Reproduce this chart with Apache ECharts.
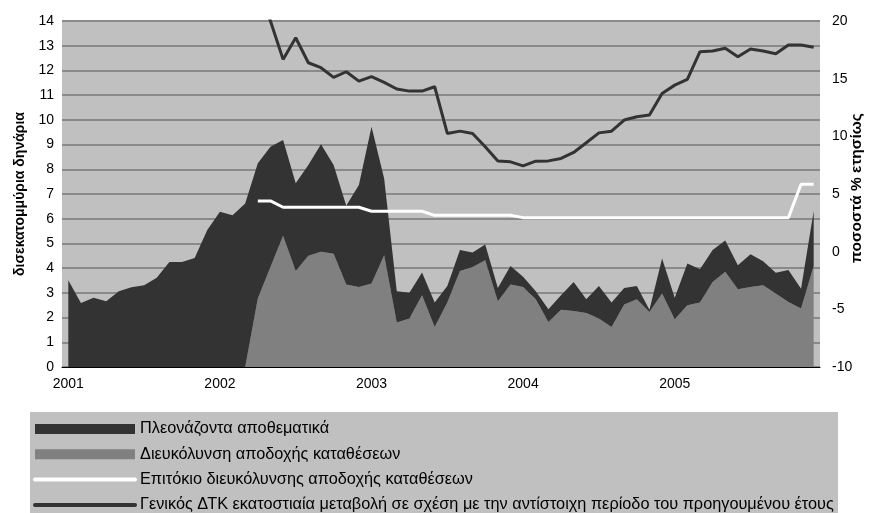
<!DOCTYPE html>
<html>
<head>
<meta charset="utf-8">
<script src="https://cdn.jsdelivr.net/npm/echarts@6/dist/echarts.min.js"></script>
<style>
  html, body { margin: 0; padding: 0; background: #ffffff; }
  #chart { width: 869px; height: 513px; }
</style>
</head>
<body>
<div id="chart"></div>
<script>
// Monthly observations, January 2001 – December 2005
const years = ['2001', '2002', '2003', '2004', '2005'];
const months = [];
years.forEach(function (y) {
  for (let m = 1; m <= 12; m++) months.push(y + '-' + String(m).padStart(2, '0'));
});

// Billion dinars (left axis), stacked: deposit facility below, excess reserves on top
const depositFacility = [
  0, 0, 0, 0, 0, 0, 0, 0, 0, 0, 0, 0,
  0, 0, 0, 2.77, 4.05, 5.31, 3.88, 4.50, 4.66, 4.58, 3.34, 3.24,
  3.38, 4.52, 1.80, 1.96, 2.90, 1.62, 2.61, 3.88, 4.05, 4.32, 2.66, 3.34,
  3.24, 2.74, 1.82, 2.32, 2.27, 2.19, 1.96, 1.62, 2.53, 2.74, 2.23, 2.97,
  1.93, 2.50, 2.61, 3.44, 3.85, 3.15, 3.24, 3.31, 2.97, 2.63, 2.37, 4.09
];
const excessReserves = [
  3.51, 2.59, 2.80, 2.66, 3.07, 3.23, 3.31, 3.61, 4.25, 4.25, 4.41, 5.54,
  6.28, 6.14, 6.62, 5.47, 4.86, 3.87, 3.55, 3.67, 4.35, 3.59, 3.18, 4.12,
  6.34, 3.11, 1.27, 1.04, 0.92, 0.99, 0.67, 0.85, 0.58, 0.64, 0.54, 0.75,
  0.41, 0.33, 0.52, 0.58, 1.17, 0.55, 1.32, 0.99, 0.67, 0.54, 0.09, 1.42,
  0.87, 1.69, 1.35, 1.29, 1.27, 0.97, 1.32, 0.97, 0.84, 1.29, 0.80, 2.22
];

// Percent per year (right axis)
const depositRate = [
  null, null, null, null, null, null, null, null, null, null, null, null,
  null, null, null, 4.4, 4.4, 3.85, 3.85, 3.85, 3.85, 3.85, 3.85, 3.85,
  3.5, 3.5, 3.5, 3.5, 3.5, 3.15, 3.15, 3.15, 3.15, 3.15, 3.15, 3.15,
  2.95, 2.95, 2.95, 2.95, 2.95, 2.95, 2.95, 2.95, 2.95, 2.95, 2.95, 2.95,
  2.95, 2.95, 2.95, 2.95, 2.95, 2.95, 2.95, 2.95, 2.95, 2.95, 5.85, 5.85
];
const cpi = [
  115, 110, 103, 97, 93, 91, 80, 67, 57, 48, 43, 40,
  36, 33, 28, 23, 20.0, 16.67, 18.55, 16.38, 15.95, 15.11, 15.6, 14.79,
  15.17, 14.68, 14.1, 13.92, 13.92, 14.3, 10.25, 10.45, 10.25, 9.09, 7.87, 7.79,
  7.44, 7.85, 7.87, 8.08, 8.6, 9.44, 10.3, 10.45, 11.41, 11.7, 11.84, 13.72,
  14.44, 14.94, 17.34, 17.4, 17.63, 16.9, 17.57, 17.4, 17.16, 17.92, 17.92, 17.72
];

const names = [
  'Πλεονάζοντα αποθεματικά',
  'Διευκόλυνση αποδοχής καταθέσεων',
  'Επιτόκιο διευκόλυνσης αποδοχής καταθέσεων',
  'Γενικός ΔΤΚ εκατοστιαία μεταβολή σε σχέση με την αντίστοιχη περίοδο του προηγουμένου έτους'
];
const rightAxisTitle = 'ποσοστά % ετησίως';

const FONT = '"Liberation Sans", Arial, sans-serif';

const chart = echarts.init(document.getElementById('chart'), null, { renderer: 'canvas' });

chart.setOption({
  animation: false,
  backgroundColor: '#ffffff',
  textStyle: { fontFamily: FONT },
  grid: {
    left: 62, right: 49, top: 21, bottom: 146,
    containLabel: false, outerBoundsMode: 'none',
    show: true, backgroundColor: '#c0c0c0', borderWidth: 0
  },
  graphic: [{
    type: 'rect', z: 0,
    shape: { x: 30, y: 412, width: 808, height: 110 },
    style: { fill: '#c0c0c0' }
  }, {
    // title of the percentage axis, reading bottom to top
    type: 'text', z: 5,
    x: 857, y: 188, rotation: Math.PI / 2,
    style: {
      text: rightAxisTitle, fill: '#000000',
      font: 'bold 15.5px "Liberation Sans", Arial, sans-serif',
      textAlign: 'center', textVerticalAlign: 'middle'
    }
  }],
  legend: {
    orient: 'vertical', left: 33, top: 421, padding: 0,
    itemWidth: 100, itemHeight: 10, itemGap: 9.3,
    selectedMode: false,
    textStyle: { fontFamily: FONT, fontSize: 16.3, color: '#000000' },
    data: [
      { name: names[0], icon: 'rect' },
      { name: names[1], icon: 'rect' },
      { name: names[2], itemStyle: { opacity: 0 }, lineStyle: { width: 4, cap: 'round' } },
      { name: names[3], itemStyle: { opacity: 0 }, lineStyle: { width: 4, cap: 'round' } }
    ]
  },
  xAxis: {
    type: 'category', data: months, boundaryGap: true,
    axisLine: { lineStyle: { color: '#000000', width: 1 } },
    axisTick: { interval: 11, length: 5, lineStyle: { color: '#000000' } },
    axisLabel: {
      interval: 11, margin: 10, color: '#000000', fontSize: 14, fontFamily: FONT,
      formatter: function (v) { return v.slice(0, 4); }
    },
    splitLine: { show: false }
  },
  yAxis: [{
    type: 'value', min: 0, max: 14, interval: 1,
    name: 'δισεκατομμύρια δηνάρια', nameLocation: 'middle', nameRotate: 90, nameGap: 35,
    nameTextStyle: { fontFamily: FONT, fontSize: 14, fontWeight: 'bold', color: '#000000' },
    axisLine: { show: false }, axisTick: { show: false },
    axisLabel: { color: '#000000', fontSize: 14, fontFamily: FONT, margin: 8 },
    splitLine: { lineStyle: { color: '#8a8a8a', width: 2 } }
  }, {
    type: 'value', min: -10, max: 20, interval: 5, position: 'right',
    axisLine: { show: false }, axisTick: { show: false },
    axisLabel: { color: '#000000', fontSize: 14, fontFamily: FONT, margin: 12 },
    splitLine: { show: false }
  }],
  series: [{
    name: names[1], type: 'line', stack: 'reserves', yAxisIndex: 0,
    data: depositFacility, symbol: 'none',
    itemStyle: { color: '#808080' },
    lineStyle: { width: 0 },
    areaStyle: { color: '#808080', opacity: 1 },
    z: 2
  }, {
    name: names[0], type: 'line', stack: 'reserves', yAxisIndex: 0,
    data: excessReserves, symbol: 'none',
    itemStyle: { color: '#333333' },
    lineStyle: { width: 0 },
    areaStyle: { color: '#333333', opacity: 1 },
    z: 2
  }, {
    name: names[2], type: 'line', yAxisIndex: 1,
    data: depositRate, symbol: 'none',
    itemStyle: { color: '#ffffff' },
    lineStyle: { color: '#ffffff', width: 3 },
    z: 3
  }, {
    name: names[3], type: 'line', yAxisIndex: 1,
    data: cpi, symbol: 'none', clip: true,
    itemStyle: { color: '#333333' },
    lineStyle: { color: '#333333', width: 3 },
    z: 4
  }]
});
</script>
</body>
</html>
